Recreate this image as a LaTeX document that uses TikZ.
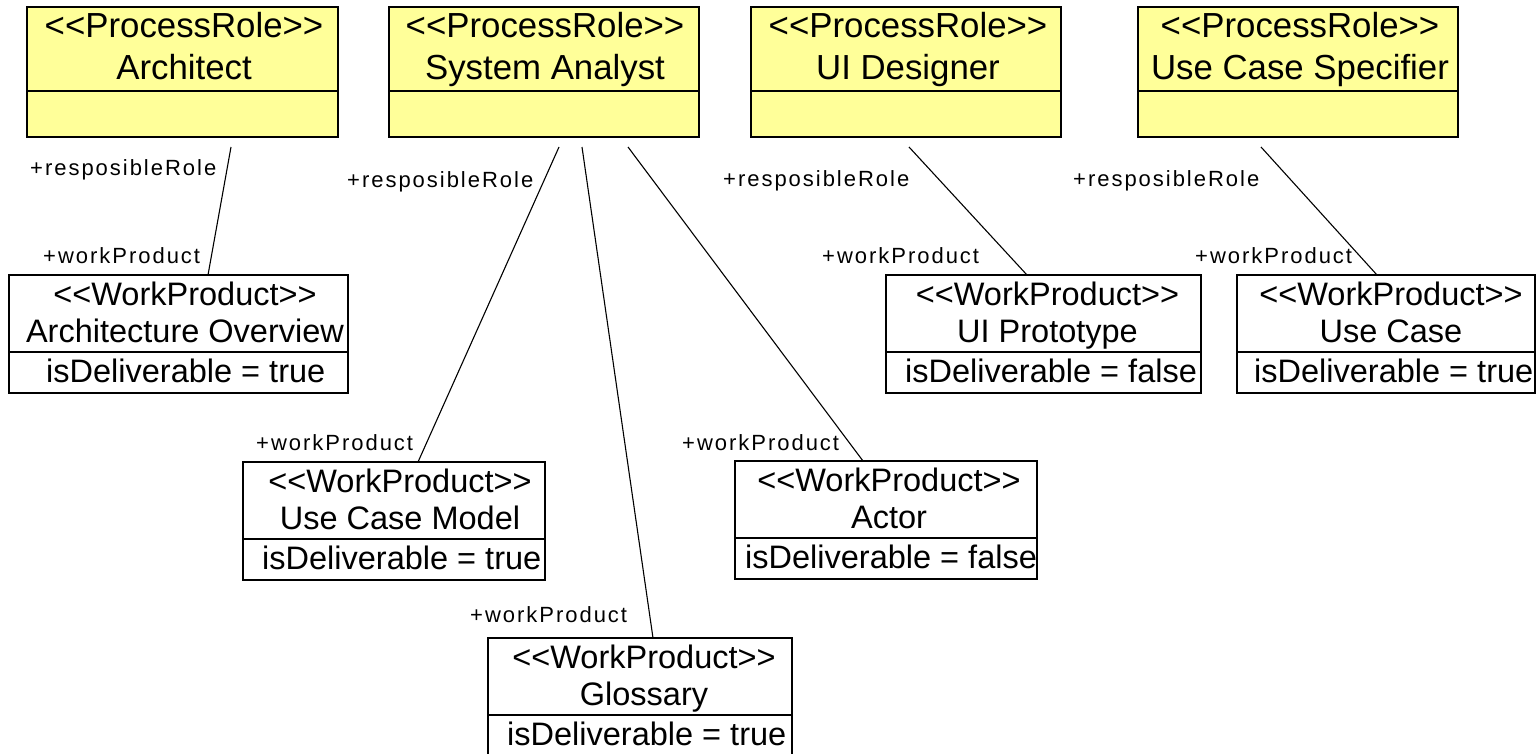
\documentclass[tikz,border=0pt]{standalone}
\usepackage{fontspec}
\setmainfont{Liberation Sans}
\definecolor{roley}{HTML}{FFFF99}
\newcommand{\dlt}{<\kern0pt<}
\newcommand{\dgt}{>\kern0pt>}
\tikzset{
  boxline/.style={line width=1.8pt},
  rolebox/.style={draw, boxline, fill=roley, inner sep=0pt, outer sep=0pt, anchor=north west},
  wpbox/.style={draw, boxline, fill=white, inner sep=0pt, outer sep=0pt, anchor=north west},
  bigtxt/.style={font=\fontsize{34.8}{40}\selectfont, inner sep=0pt, anchor=base},
  wptxt/.style={font=\fontsize{32.5}{38}\selectfont, inner sep=0pt, anchor=base},
  endlbl/.style={font=\fontsize{22}{26}\selectfont\addfontfeature{LetterSpace=9}, inner sep=0pt, anchor=base west},
  assoc/.style={line width=1.1pt},
}
% name, left, right, text centre x, role name
\newcommand{\RoleBox}[5]{%
  \node[rolebox, minimum width={#3pt-#2pt}, minimum height=130pt] (#1) at (#2,7) {};
  \draw[boxline] (#2,91) -- (#3,91);
  \node[bigtxt] (#1a) at (#4,38) {\dlt ProcessRole\dgt};
  \node[bigtxt] (#1b) at (#4,80) {#5};
}
% name, left, right, top, text centre x, attribute left x, name, attribute
\newcommand{\WPBox}[8]{%
  \node[wpbox, minimum width={#3pt-#2pt}, minimum height=118pt] (#1) at (#2,#4) {};
  \draw[boxline] (#2,{#4+77}) -- (#3,{#4+77});
  \node[wptxt] (#1a) at (#5,{#4+30}) {\dlt WorkProduct\dgt};
  \node[wptxt] (#1b) at (#5,{#4+67}) {#7};
  \node[wptxt, anchor=base west] (#1c) at (#6,{#4+107}) {#8};
}
\begin{document}
\begin{tikzpicture}[x=1pt, y=-1pt]
\useasboundingbox (0,0) rectangle (1536,754);
\fill[white] (0,0) rectangle (1536,754);

% process roles
\RoleBox{arch}{27}{338}{184}{Architect}
\RoleBox{sa}{389}{699}{545}{System Analyst}
\RoleBox{uid}{751}{1061}{908}{UI Designer}
\RoleBox{ucs}{1138}{1458}{1300}{Use Case Specifier}

% work products
\WPBox{ao}{9}{348}{275}{185}{46}{Architecture Overview}{isDeliverable = true}
\WPBox{uip}{886}{1201}{275}{1047.5}{905}{UI Prototype}{isDeliverable = false}
\WPBox{uc}{1237}{1535}{275}{1391}{1254}{Use Case}{isDeliverable = true}
\WPBox{ucm}{243}{545}{462}{400}{262}{Use Case Model}{isDeliverable = true}
\WPBox{act}{735}{1037}{461}{889}{745}{Actor}{isDeliverable = false}
\WPBox{glo}{488}{792}{638}{644}{507}{Glossary}{isDeliverable = true}

% connector end points
\coordinate (archS) at (231,147);  \coordinate (aoN)  at (208,275);
\coordinate (saS1)  at (559,147);  \coordinate (ucmN) at (418,462);
\coordinate (saS2)  at (582,147);  \coordinate (gloN) at (653,638);
\coordinate (saS3)  at (628,147);  \coordinate (actN) at (863,461);
\coordinate (uidS)  at (909,147);  \coordinate (uipN) at (1027,275);
\coordinate (ucsS)  at (1261,147); \coordinate (ucN)  at (1377,275);

\draw[assoc] (archS) -- (aoN);
\draw[assoc] (saS1) -- (ucmN);
\draw[assoc] (saS2) -- (gloN);
\draw[assoc] (saS3) -- (actN);
\draw[assoc] (uidS) -- (uipN);
\draw[assoc] (ucsS) -- (ucN);

% association end labels
\node[endlbl] (l1) at (30,176)   {+resposibleRole};
\node[endlbl] (l2) at (43,263)   {+workProduct};
\node[endlbl] (l3) at (347,188)  {+resposibleRole};
\node[endlbl] (l4) at (256,450)  {+workProduct};
\node[endlbl] (l5) at (470,622)  {+workProduct};
\node[endlbl] (l6) at (682,450)  {+workProduct};
\node[endlbl] (l7) at (723,187)  {+resposibleRole};
\node[endlbl] (l8) at (822,263)  {+workProduct};
\node[endlbl] (l9) at (1073,187) {+resposibleRole};
\node[endlbl] (l10) at (1195,263) {+workProduct};
\end{tikzpicture}
\end{document}
